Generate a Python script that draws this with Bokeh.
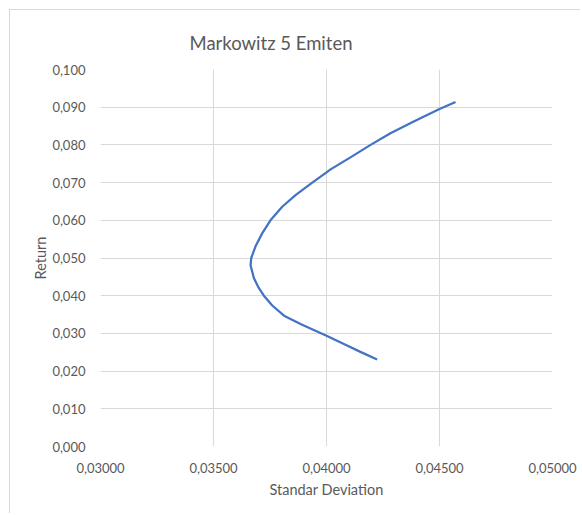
from bokeh.plotting import figure
from bokeh.models import FixedTicker, CustomJSTickFormatter, Range1d
from bokeh.embed import file_html
from bokeh.resources import INLINE

# --- data ---
title_text = "Markowitz 5 Emiten"
x_label = "Standar Deviation"
y_label = "Return"

std_dev = [0.04571, 0.04500, 0.04386, 0.04283, 0.04195, 0.04106, 0.04018, 0.04000,
           0.03937, 0.03863, 0.03804, 0.03752, 0.03716, 0.03686, 0.03667, 0.03664,
           0.03679, 0.03701, 0.03723, 0.03760, 0.03812, 0.03885, 0.04000, 0.04077,
           0.04150, 0.04224]
returns = [0.0914, 0.0895, 0.0862, 0.0831, 0.0800, 0.0767, 0.0735, 0.0727,
           0.0700, 0.0667, 0.0636, 0.0600, 0.0566, 0.0531, 0.0500, 0.0481,
           0.0446, 0.0420, 0.0400, 0.0374, 0.0347, 0.0325, 0.0294, 0.0272,
           0.0251, 0.0231]

x_ticks = [0.030, 0.035, 0.040, 0.045, 0.050]
y_ticks = [0.00, 0.01, 0.02, 0.03, 0.04, 0.05, 0.06, 0.07, 0.08, 0.09, 0.10]

FONT = "Lato"
GREY = "#595959"
GRID = "#d9d9d9"

p = figure(width=571, height=504, output_backend="svg", toolbar_location=None,
           x_range=Range1d(0.03, 0.05), y_range=Range1d(0.0, 0.1),
           min_border_left=90, min_border_right=29, min_border_top=59, min_border_bottom=68,
           margin=(9, 0, 0, 9),
           styles={"border-left": "1px solid #d9d9d9", "border-top": "1px solid #d9d9d9"})
p.outline_line_color = None
p.background_fill_color = "white"
p.border_fill_color = "white"

p.line(std_dev, returns, line_color="#4472C4", line_width=2.25)

for ax, ticks, fmt in ((p.xaxis[0], x_ticks, "return tick.toFixed(5).replace('.', ',')"),
                       (p.yaxis[0], y_ticks, "return tick.toFixed(3).replace('.', ',')")):
    ax.ticker = FixedTicker(ticks=ticks)
    ax.formatter = CustomJSTickFormatter(code=fmt)
    ax.axis_line_color = None
    ax.major_tick_line_color = None
    ax.minor_tick_line_color = None
    ax.major_label_text_font = FONT
    ax.major_label_text_font_size = "13px"
    ax.major_label_text_color = GREY
    ax.axis_label_text_font = FONT
    ax.axis_label_text_font_size = "14.5px"
    ax.axis_label_text_font_style = "normal"
    ax.axis_label_text_color = GREY

p.xaxis.axis_label = x_label
p.yaxis.axis_label = y_label
p.xaxis.major_label_standoff = 10
p.yaxis.major_label_standoff = 9
p.xaxis.axis_label_standoff = 5
p.yaxis.axis_label_standoff = 0

p.xgrid.ticker = FixedTicker(ticks=x_ticks)
p.ygrid.ticker = FixedTicker(ticks=y_ticks)
p.grid.grid_line_color = GRID
p.grid.grid_line_width = 1

# title: a short blank second line lifts the visible line above the frame
p.title.text = title_text + "\n "
p.title.text_line_height = 0.5
p.title.align = "left"
p.title.offset = 89
p.title.text_font = FONT
p.title.text_font_size = "18.5px"
p.title.text_font_style = "normal"
p.title.text_color = GREY

open("out.html", "w").write(file_html(p, INLINE))
